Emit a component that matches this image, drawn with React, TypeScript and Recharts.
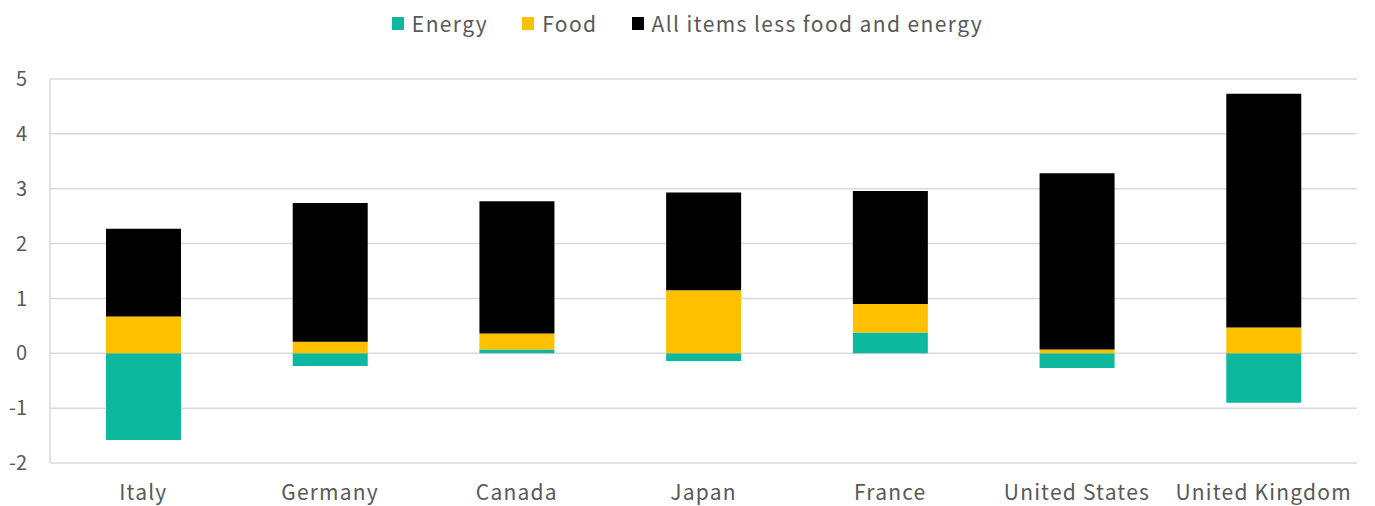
import { BarChart, Bar, XAxis, YAxis, CartesianGrid } from 'recharts';

document.body.style.margin = '0';

const countries = ['Italy', 'Germany', 'Canada', 'Japan', 'France', 'United States', 'United Kingdom'];
const energy = [-1.58, -0.23, 0.07, -0.14, 0.38, -0.27, -0.9];
const food = [0.67, 0.21, 0.29, 1.15, 0.52, 0.07, 0.47];
const core = [1.6, 2.53, 2.41, 1.78, 2.06, 3.21, 4.26];
const yTicks = [-2, -1, 0, 1, 2, 3, 4, 5];

const series = [
  { key: 'energy', name: 'Energy', color: '#0DB89F' },
  { key: 'food', name: 'Food', color: '#FFC000' },
  { key: 'core', name: 'All items less food and energy', color: '#000000' },
];

const data = countries.map((c, i) => ({ country: c, energy: energy[i], food: food[i], core: core[i] }));

const FONT = '"Noto Sans CJK JP", "Noto Sans", sans-serif';
const TEXT = '#595959';

function TopLegend() {
  return (
    <div style={{
      position: 'absolute', top: 8, left: 0, width: 1375,
      display: 'flex', justifyContent: 'center', alignItems: 'center',
      fontFamily: FONT, fontSize: 21, letterSpacing: 1.4, color: TEXT,
    }}>
      {series.map((s, i) => (
        <div key={s.key} style={{ display: 'flex', alignItems: 'center', marginLeft: i === 0 ? 0 : 34 }}>
          <span style={{ width: 12, height: 13, background: s.color, display: 'inline-block', marginRight: 8 }} />
          <span>{s.name}</span>
        </div>
      ))}
    </div>
  );
}

export default function App() {
  return (
    <div style={{ position: 'relative', width: 1375, height: 506 }}>
      <BarChart
        width={1375}
        height={506}
        data={data}
        stackOffset="sign"
        margin={{ top: 79, right: 18, bottom: 13, left: 0 }}
        barSize={75}
      >
        <CartesianGrid vertical={false} stroke="#d9d9d9" strokeWidth={1.5} />
        <XAxis
          dataKey="country"
          axisLine={false}
          tickLine={false}
          tickSize={0}
          tickMargin={22}
          height={30}
          interval={0}
          tick={{ fill: TEXT, fontSize: 21, fontFamily: FONT, letterSpacing: 1.2 }}
        />
        <YAxis
          domain={[-2, 5]}
          ticks={yTicks}
          width={50}
          axisLine={{ stroke: '#d9d9d9', strokeWidth: 1.5 }}
          tickLine={false}
          tickSize={0}
          tickMargin={23}
          tick={{ fill: TEXT, fontSize: 20, fontFamily: FONT }}
        />
        {series.map(s => (
          <Bar key={s.key} dataKey={s.key} name={s.name} stackId="a" fill={s.color} isAnimationActive={false} />
        ))}
      </BarChart>
      <TopLegend />
    </div>
  );
}
